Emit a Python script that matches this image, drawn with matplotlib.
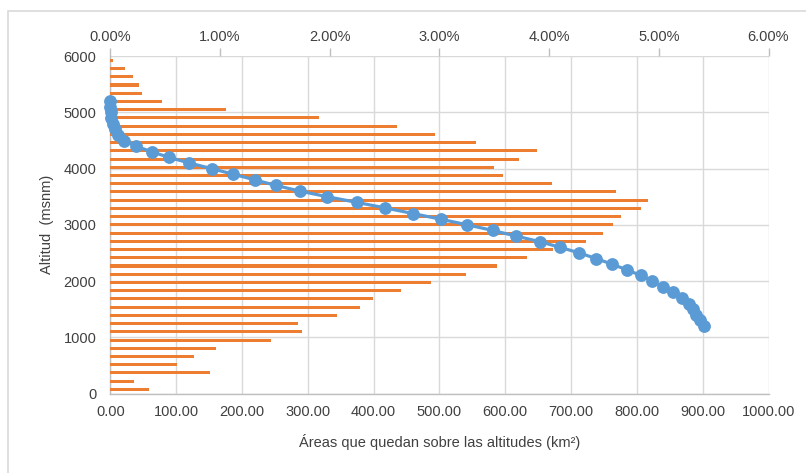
import matplotlib
matplotlib.use("Agg")
import matplotlib.pyplot as plt
from matplotlib.patches import Rectangle
from matplotlib.ticker import FuncFormatter
import numpy as np

plt.rcParams['font.family'] = ['Liberation Sans', 'DejaVu Sans']

# Hypsometric curve: area (km²) lying above each altitude (m a.s.l.)
altitudes = [5200, 5100, 5000, 4900, 4800, 4700, 4600, 4500, 4400, 4300,
             4200, 4100, 4000, 3900, 3800, 3700, 3600, 3500, 3400, 3300,
             3200, 3100, 3000, 2900, 2800, 2700, 2600, 2500, 2400, 2300,
             2200, 2100, 2000, 1900, 1800, 1700, 1600, 1500, 1400, 1300, 1200]
area_above = [0.0, 0.2, 0.5, 1.3, 3.6, 7.1, 12.2, 21.3, 38.6, 62.9,
              89.2, 120.2, 154.1, 186.9, 219.9, 251.8, 288.3, 329.8, 374.5, 418.0,
              460.5, 502.1, 542.6, 581.2, 616.6, 653.0, 683.4, 712.8, 738.1, 762.5,
              784.8, 806.1, 823.7, 839.5, 854.7, 868.4, 879.5, 885.1, 890.1, 896.2, 902.3]

# Share of the basin area in each altitude band (%), lowest band first
band_labels = altitudes[::-1]
band_pct = [0.353, 0.219, 0.909, 0.608, 0.766, 0.966, 1.464, 1.750, 1.710, 2.066,
            2.275, 2.399, 2.651, 2.927, 3.243, 3.528, 3.799, 4.036, 4.333, 4.488,
            4.579, 4.658, 4.840, 4.898, 4.609, 4.026, 3.577, 3.501, 3.729, 3.893,
            3.337, 2.964, 2.610, 1.904, 1.055, 0.468, 0.286, 0.265, 0.210, 0.131, 0.025]

area_ticks = [0, 100, 200, 300, 400, 500, 600, 700, 800, 900, 1000]
alt_ticks = [0, 1000, 2000, 3000, 4000, 5000, 6000]
pct_ticks = [0, 1, 2, 3, 4, 5, 6]

ORANGE = '#ED7D31'
BLUE = '#5B9BD5'
GRID = '#D9D9D9'
AXIS = '#BFBFBF'
TEXT = '#404040'

W, H = 806, 473
fig = plt.figure(figsize=(W / 100, H / 100), dpi=100)
fig.patch.set_facecolor('white')

left, right, top, bottom = 110.3, 768.5, 56.2, 393.5
pos = [left / W, 1 - bottom / H, (right - left) / W, (bottom - top) / H]

# chart frame
fig.add_artist(Rectangle((8 / W, -0.05), 1.0, 1 - 11 / H + 0.05,
                         transform=fig.transFigure, fill=False,
                         edgecolor=GRID, linewidth=1.2))

# primary axes: grid, area/altitude scales and titles
ax = fig.add_axes(pos)
ax.set_zorder(0)
ax.set_xlim(0, 1000)
ax.set_ylim(0, 6000)
ax.set_xticks(area_ticks)
ax.set_yticks(alt_ticks)
ax.xaxis.set_major_formatter(FuncFormatter(lambda v, p: f"{v:.2f}"))
ax.yaxis.set_major_formatter(FuncFormatter(lambda v, p: f"{v:.0f}"))
ax.grid(True, color=GRID, linewidth=1.0)
ax.set_axisbelow(True)
for s in ['top', 'right']:
    ax.spines[s].set_visible(False)
for s in ['left', 'bottom']:
    ax.spines[s].set_color(AXIS)
    ax.spines[s].set_linewidth(1.0)
ax.tick_params(axis='both', length=0, labelsize=10.5, colors=TEXT)
ax.tick_params(axis='y', pad=10)
ax.tick_params(axis='x', pad=8)
ax.set_xlabel("Áreas que quedan sobre las altitudes (km²)", fontsize=10.5, color=TEXT)
ax.set_ylabel("Altitud  (msnm)", fontsize=10.5, color=TEXT)
ax.xaxis.set_label_coords(0.5, -0.12)
ax.yaxis.set_label_coords(-0.086, 0.5)

# secondary axes: percentage bars per altitude band
axb = fig.add_axes(pos, frameon=False)
axb.set_zorder(1)
axb.patch.set_visible(False)
ypos = np.arange(len(band_pct))
axb.barh(ypos, band_pct, height=0.37, color=ORANGE, edgecolor='none')
axb.set_xlim(0, 6)
axb.set_ylim(-0.5, len(band_pct) - 0.5)
axb.set_xticks(pct_ticks)
axb.xaxis.set_major_formatter(FuncFormatter(lambda v, p: f"{v:.2f}%"))
axb.xaxis.tick_top()
axb.set_yticks([])
axb.tick_params(axis='x', direction='out', length=6, width=1.0, color=AXIS,
                labelsize=10.5, labelcolor=TEXT, pad=3)
axb.spines['top'].set_visible(True)
axb.spines['top'].set_color(AXIS)
axb.spines['top'].set_linewidth(1.0)

# curve on top of the bars, sharing the primary scales
axl = fig.add_axes(pos, sharex=ax, sharey=ax, frameon=False)
axl.set_zorder(2)
axl.patch.set_visible(False)
axl.plot(area_above, altitudes, color=BLUE, linewidth=2.3, marker='o',
         markersize=8.2, markerfacecolor=BLUE, markeredgecolor=BLUE, clip_on=False)
axl.tick_params(axis='both', which='both', length=0, labelbottom=False, labelleft=False)

fig.savefig("out.png", dpi=100, facecolor='white')
